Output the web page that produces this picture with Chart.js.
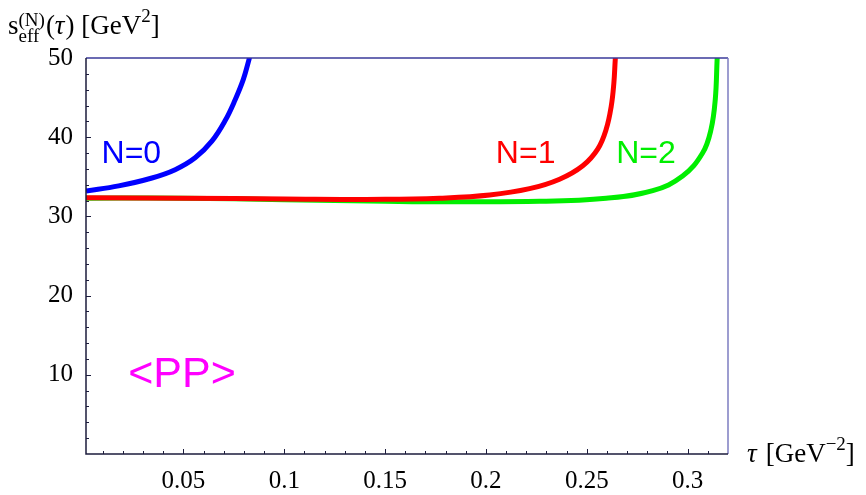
<!DOCTYPE html>
<html>
<head>
<meta charset="utf-8">
<script src="https://cdn.jsdelivr.net/npm/chart.js@4.4.0/dist/chart.umd.min.js"></script>
<style>
  html, body { margin: 0; padding: 0; background: #fff; }
  #wrap { width: 866px; height: 495px; position: relative; }
</style>
</head>
<body>
<div id="wrap"><canvas id="sChart" width="866" height="495"></canvas></div>
<script>
// curve data: tau and s_eff
const n0Tau = [0.0017, 0.0179, 0.0344, 0.0459, 0.0558, 0.0641, 0.0707, 0.0756, 0.0797, 0.0825, 0.0832];
const n0S   = [33.2, 33.85, 34.85, 35.9, 37.4, 39.5, 42.1, 44.7, 47.3, 49.8, 50.6];

const n1Tau = [0.0017, 0.05, 0.1, 0.15, 0.177, 0.2018, 0.2216, 0.2365, 0.248, 0.2554, 0.2596, 0.2621, 0.2634, 0.2641, 0.2644];
const n1S   = [32.35, 32.3, 32.2, 32.15, 32.3, 32.7, 33.5, 34.7, 36.4, 38.5, 41.0, 43.9, 46.8, 49.8, 50.8];

const n2Tau = [0.0017, 0.05, 0.1, 0.15, 0.177, 0.2266, 0.2596, 0.2827, 0.2975, 0.3074, 0.3116, 0.3137, 0.3146, 0.3148];
const n2S   = [32.3, 32.3, 32.1, 31.9, 31.85, 31.9, 32.3, 33.25, 35.1, 38.0, 41.0, 44.8, 49.8, 50.8];

const xTickVals = [0.05, 0.1, 0.15, 0.2, 0.25, 0.3];
const xTickLabels = ['0.05', '0.1', '0.15', '0.2', '0.25', '0.3'];
const yTickVals = [10, 20, 30, 40, 50];
const yTickLabels = ['10', '20', '30', '40', '50'];

// in-plot labels: text, tau, s, colour
const curveLabels = [
    ['N=0', 0.0094, 36.8, '#0000ff'],
    ['N=1', 0.2049, 36.8, '#ff0000'],
    ['N=2', 0.2646, 36.8, '#00ee00']
];
const pairLabel = ['<PP>', 0.0226, 8.5, '#ff00ff'];

const X_MIN = 0.0017, X_MAX = 0.32;
const serif = '"Liberation Serif", "DejaVu Serif", serif';
const sans = '"Liberation Sans", Arial, sans-serif';

function toPoints(xs, ys) {
    return xs.map((x, i) => ({ x: x, y: ys[i] }));
}

// frame, inward ticks, axis titles and curve labels
const decorPlugin = {
    id: 'decor',
    afterDatasetsDraw(chart) {
        const ctx = chart.ctx;
        const a = chart.chartArea;
        const xs = chart.scales.x, ys = chart.scales.y;
        ctx.save();

        // ticks
        ctx.strokeStyle = '#1c1c3c';
        ctx.lineWidth = 1;
        for (let i = 1; i <= 31; i++) {
            const px = Math.round(xs.getPixelForValue(i / 100)) + 0.5;
            const len = (i % 5 === 0) ? 5 : 3;
            ctx.beginPath();
            ctx.moveTo(px, a.bottom);
            ctx.lineTo(px, a.bottom - len);
            ctx.stroke();
        }
        for (let v = 2; v < 50; v += 2) {
            const py = Math.round(ys.getPixelForValue(v)) + 0.5;
            const len = (v % 10 === 0) ? 5 : 3;
            ctx.beginPath();
            ctx.moveTo(a.left, py);
            ctx.lineTo(a.left + len, py);
            ctx.stroke();
        }

        // frame
        ctx.lineWidth = 1.5;
        ctx.strokeStyle = '#3a3a9a';
        ctx.beginPath(); ctx.moveTo(a.left, a.top); ctx.lineTo(a.right, a.top); ctx.stroke();
        ctx.strokeStyle = '#7c7cc0';
        ctx.beginPath(); ctx.moveTo(a.right, a.top); ctx.lineTo(a.right, a.bottom); ctx.stroke();
        ctx.strokeStyle = '#1c1c3c';
        ctx.beginPath(); ctx.moveTo(a.left, a.top); ctx.lineTo(a.left, a.bottom); ctx.lineTo(a.right, a.bottom); ctx.stroke();

        // curve labels
        ctx.textBaseline = 'alphabetic';
        ctx.textAlign = 'left';
        ctx.font = '32px ' + sans;
        curveLabels.forEach(l => {
            ctx.fillStyle = l[3];
            ctx.fillText(l[0], xs.getPixelForValue(l[1]), ys.getPixelForValue(l[2]));
        });
        ctx.font = '43px ' + sans;
        ctx.fillStyle = pairLabel[3];
        ctx.fillText(pairLabel[0], xs.getPixelForValue(pairLabel[1]), ys.getPixelForValue(pairLabel[2]));

        // y axis title: s_eff^(N)(tau) [GeV^2]
        ctx.fillStyle = '#000';
        let x = 8, base = 34;
        ctx.font = '27px ' + serif;
        ctx.fillText('s', x, base);
        x += ctx.measureText('s').width;
        ctx.font = '19px ' + serif;
        ctx.fillText('(N)', x, 26);
        ctx.fillText('eff', x, 42);
        x += ctx.measureText('(N)').width + 1;
        ctx.font = '27px ' + serif;
        ctx.fillText('(', x, base);
        x += ctx.measureText('(').width;
        ctx.font = 'italic 27px ' + serif;
        ctx.fillText('\u03c4', x, base);
        x += ctx.measureText('\u03c4').width + 1;
        ctx.font = '27px ' + serif;
        ctx.fillText(') [GeV', x, base);
        x += ctx.measureText(') [GeV').width;
        ctx.font = '19px ' + serif;
        ctx.fillText('2', x, 22);
        x += ctx.measureText('2').width;
        ctx.font = '27px ' + serif;
        ctx.fillText(']', x, base);

        // x axis title: tau [GeV^-2]
        x = 747; base = 462;
        ctx.font = 'italic 27px ' + serif;
        ctx.fillText('\u03c4', x, base);
        x += ctx.measureText('\u03c4').width + 9;
        ctx.font = '27px ' + serif;
        ctx.fillText('[GeV', x, base);
        x += ctx.measureText('[GeV').width;
        ctx.font = '19px ' + serif;
        ctx.fillText('\u22122', x, 450);
        x += ctx.measureText('\u22122').width;
        ctx.font = '27px ' + serif;
        ctx.fillText(']', x, base);

        ctx.restore();
    }
};

function initChart() {
    const ctx = document.getElementById('sChart').getContext('2d');
    new Chart(ctx, {
        type: 'line',
        data: {
            datasets: [{
                label: 'N=0',
                data: toPoints(n0Tau, n0S),
                borderColor: '#0000ff',
                order: 0
            }, {
                label: 'N=1',
                data: toPoints(n1Tau, n1S),
                borderColor: '#ff0000',
                order: 1
            }, {
                label: 'N=2',
                data: toPoints(n2Tau, n2S),
                borderColor: '#00ee00',
                order: 2
            }]
        },
        options: {
            responsive: false,
            animation: false,
            events: [],
            layout: { padding: { top: 58, right: 138, left: 0, bottom: 0 } },
            elements: {
                line: { borderWidth: 5, tension: 0.4, fill: false, borderCapStyle: 'butt', capBezierPoints: false },
                point: { radius: 0 }
            },
            datasets: { line: { clip: 0 } },
            plugins: { legend: { display: false }, tooltip: { enabled: false } },
            scales: {
                x: {
                    type: 'linear',
                    min: X_MIN,
                    max: X_MAX,
                    grid: { display: false, drawTicks: false },
                    border: { display: false },
                    afterBuildTicks: s => { s.ticks = xTickVals.map(v => ({ value: v })); },
                    afterFit: s => { s.height = 41; },
                    ticks: {
                        autoSkip: false,
                        maxRotation: 0,
                        padding: 12,
                        color: '#000',
                        font: { family: serif, size: 25 },
                        callback: (v) => xTickLabels[xTickVals.indexOf(v)]
                    }
                },
                y: {
                    type: 'linear',
                    min: 0,
                    max: 50,
                    grid: { display: false, drawTicks: false },
                    border: { display: false },
                    afterBuildTicks: s => { s.ticks = yTickVals.map(v => ({ value: v })); },
                    afterFit: s => { s.width = 86; },
                    ticks: {
                        autoSkip: false,
                        padding: 13,
                        color: '#000',
                        font: { family: serif, size: 25 },
                        callback: (v) => yTickLabels[yTickVals.indexOf(v)]
                    }
                }
            }
        },
        plugins: [decorPlugin]
    });
}

document.addEventListener('DOMContentLoaded', () => {
    initChart();
});
</script>
</body>
</html>
